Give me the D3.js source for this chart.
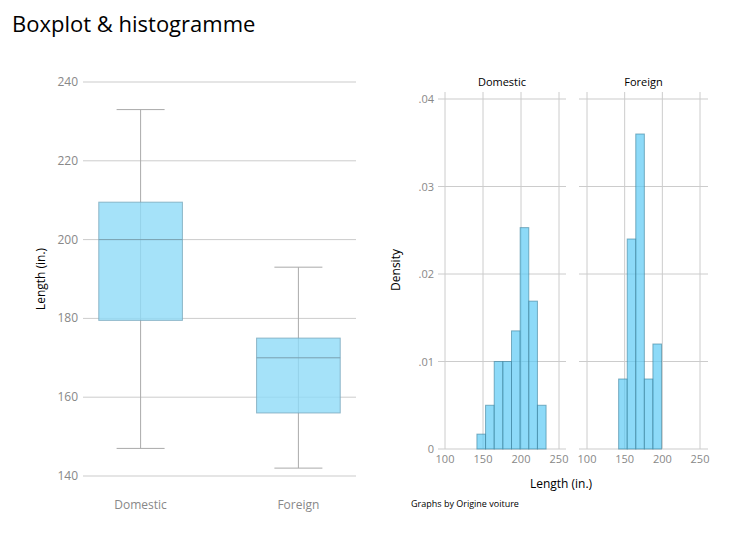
<!DOCTYPE html><html><head><meta charset="utf-8">
<script src="https://cdn.jsdelivr.net/npm/d3@7"></script>
<style>body{margin:0;background:#fff;font-family:"Open Sans",sans-serif}</style></head><body>
<svg id="c" width="741" height="539"></svg>
<script>
const groups=["Domestic","Foreign"];
const boxMin=[147,142], boxQ1=[179.5,156], boxMed=[200,170], boxQ3=[209.5,175], boxMax=[233,193];
const boxTicks=[140,160,180,200,220,240];
const binStart=142, binWidth=11.375;
const densDomestic=[0.0017,0.005,0.010,0.010,0.0135,0.0253,0.0169,0.005];
const densForeign=[0.008,0.024,0.036,0.008,0.012];
const histXTicks=[100,150,200,250];
const histYTicks=[0,0.01,0.02,0.03,0.04];
const histYLabels=["0",".01",".02",".03",".04"];

const svg=d3.select("#c");
svg.append("text").attr("x",12).attr("y",32).attr("font-size",22).attr("fill","#000").text("Boxplot & histogramme");

// Boxplot
const y=d3.scaleLinear().domain([140,240]).range([476,82]);
const x=d3.scaleBand().domain(groups).range([83,356]).paddingInner(0.47).paddingOuter(0.1);
const g=svg.append("g");
boxTicks.forEach(t=>{
  g.append("line").attr("x1",83).attr("x2",356).attr("y1",y(t)).attr("y2",y(t)).attr("stroke",t===140||t===240?"#ddd":"#ccc").attr("stroke-width",t===140||t===240?1.5:1);
  g.append("text").attr("x",78).attr("y",y(t)+4).attr("text-anchor","end").attr("font-size",12).attr("fill","#888").text(t);
});
groups.forEach((k,i)=>{
  const cx=x(k)+x.bandwidth()/2, bw=x.bandwidth();
  g.append("line").attr("x1",cx).attr("x2",cx).attr("y1",y(boxMax[i])).attr("y2",y(boxMin[i])).attr("stroke","#aaa");
  [boxMax[i],boxMin[i]].forEach(v=>g.append("line").attr("x1",cx-24).attr("x2",cx+24).attr("y1",y(v)).attr("y2",y(v)).attr("stroke","#aaa"));
  g.append("rect").attr("x",x(k)).attr("width",bw).attr("y",y(boxQ3[i])).attr("height",y(boxQ1[i])-y(boxQ3[i])).attr("fill","#8fdbf8").attr("fill-opacity",0.8).attr("stroke","#7aa8bc").attr("stroke-opacity",0.8);
  g.append("line").attr("x1",x(k)).attr("x2",x(k)+bw).attr("y1",y(boxMed[i])).attr("y2",y(boxMed[i])).attr("stroke","#7aa0b0");
  g.append("text").attr("x",cx).attr("y",509).attr("text-anchor","middle").attr("font-size",12).attr("fill","#888").text(k);
});
g.append("text").attr("transform","translate(45,279) rotate(-90)").attr("text-anchor","middle").attr("font-size",12).attr("fill","#000").text("Length (in.)");

// Histograms
const hy=d3.scaleLinear().domain([0,0.04]).range([449,99]);
const panels=[{name:"Domestic",d:densDomestic,l:438,r:566,x0:445,x1:559},{name:"Foreign",d:densForeign,l:579,r:708,x0:587,x1:700}];
panels.forEach((p,pi)=>{
  const hx=d3.scaleLinear().domain([100,250]).range([p.x0,p.x1]);
  const hg=svg.append("g");
  histYTicks.forEach(t=>hg.append("line").attr("x1",p.l).attr("x2",p.r).attr("y1",hy(t)).attr("y2",hy(t)).attr("stroke",t===0||t===0.04?"#ddd":"#ccc").attr("stroke-width",t===0||t===0.04?1.5:1));
  histXTicks.forEach(t=>{
    hg.append("line").attr("x1",hx(t)).attr("x2",hx(t)).attr("y1",hy(0)).attr("y2",92).attr("stroke","#ccc");
    hg.append("text").attr("x",hx(t)).attr("y",463).attr("text-anchor","middle").attr("font-size",11).attr("fill","#888").text(t);
  });
  p.d.forEach((v,i)=>{
    const a=binStart+i*binWidth;
    hg.append("rect").attr("x",hx(a)).attr("width",hx(a+binWidth)-hx(a)).attr("y",hy(v)).attr("height",hy(0)-hy(v)).attr("fill","#5ccaf5").attr("fill-opacity",0.7).attr("stroke","#3a7e9a").attr("stroke-opacity",0.6);
  });
  hg.append("text").attr("x",(p.l+p.r)/2).attr("y",86).attr("text-anchor","middle").attr("font-size",11).attr("fill","#000").text(p.name);
  if(pi===0) histYTicks.forEach((t,i)=>hg.append("text").attr("x",434).attr("y",hy(t)+4).attr("text-anchor","end").attr("font-size",11).attr("fill","#888").text(histYLabels[i]));
});
svg.append("text").attr("transform","translate(400,270) rotate(-90)").attr("text-anchor","middle").attr("font-size",12).attr("fill","#000").text("Density");
svg.append("text").attr("x",561).attr("y",488).attr("text-anchor","middle").attr("font-size",12).attr("fill","#000").text("Length (in.)");
svg.append("text").attr("x",411).attr("y",507).attr("font-size",9).attr("fill","#000").text("Graphs by Origine voiture");
</script></body></html>
